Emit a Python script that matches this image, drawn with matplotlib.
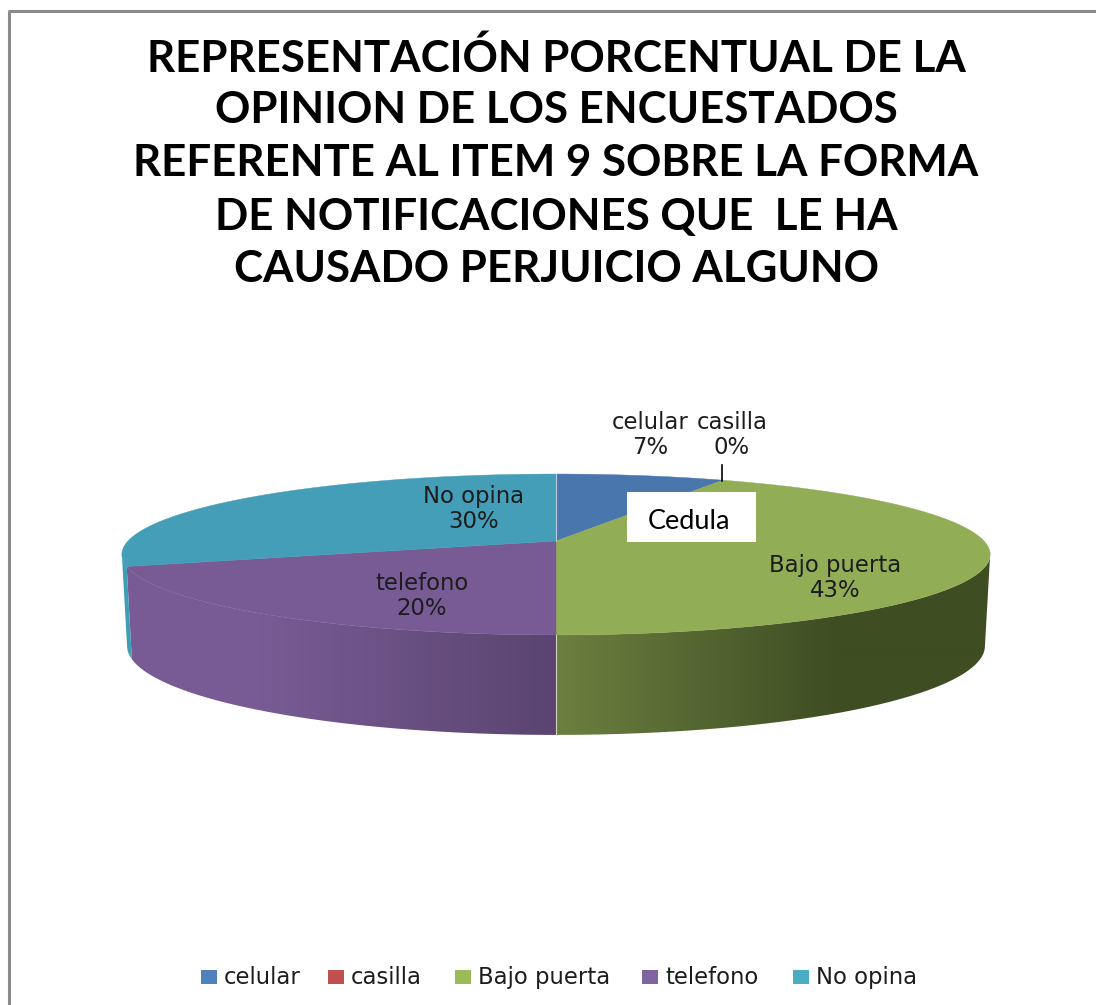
import numpy as np
import matplotlib
matplotlib.use('Agg')
import matplotlib.pyplot as plt
from matplotlib.colors import to_rgb
from matplotlib.patches import PathPatch, Polygon, Rectangle
from matplotlib.path import Path

# data
categories = ['celular', 'casilla', 'Bajo puerta', 'telefono', 'No opina']
values = [7.4, 0, 42.6, 20, 30]
top_colors = ['#4a76ae', '#b94a47', '#91ad56', '#785b95', '#459eb7']
legend_colors = ['#4f81bd', '#c0504d', '#9bbb59', '#8064a2', '#4bacc6']
title_lines = ['REPRESENTACIÓN PORCENTUAL DE LA',
               'OPINION DE LOS ENCUESTADOS',
               'REFERENTE AL ITEM 9 SOBRE LA FORMA',
               'DE NOTIFICACIONES QUE  LE HA',
               'CAUSADO PERJUICIO ALGUNO']

W, H = 1096, 1005
CX, CY = 556., 541.
K = 0.1677      # perspective
A_X, A_Y = 428., 78.2
B_SCALE, B_DY, B_AY = 0.988, 90., 86.5


def top_xy(deg):
    t = np.radians(deg)
    d = 1 + K * np.cos(t)
    return CX + A_X * np.sin(t) / d, CY - A_Y * np.cos(t) / d


def bottom_xy(deg):
    t = np.radians(deg)
    d = 1 + K * np.cos(t)
    return CX + B_SCALE * A_X * np.sin(t) / d, CY + B_DY - B_AY * np.cos(t) / d


def wall_color(x):
    # side walls get darker towards the front right
    xs = [127, 260, 556, 556.01, 835, 990]
    stops = ['#785b94', '#785b94', '#5a4470', '#6b8040', '#3f4d23', '#3f4d23']
    rgb = np.array([to_rgb(c) for c in stops])
    return np.array([np.interp(x, xs, rgb[:, i]) for i in range(3)]).T


fig = plt.figure(figsize=(W / 100, H / 100), dpi=100)
ax = fig.add_axes([0, 0, 1, 1])
ax.set_xlim(0, W)
ax.set_ylim(H, 0)
ax.axis('off')

# frame, only top and left are in the crop
ax.plot([9.3, 9.3], [H, 11.3], color='#8a8a8a', lw=2.2, solid_capstyle='butt')
ax.plot([8.2, W], [11.3, 11.3], color='#8a8a8a', lw=2.2, solid_capstyle='butt')

edges = np.cumsum([0] + values) / sum(values) * 360.
sil_right = np.degrees(np.arccos(-K))
sil_left = 360 - sil_right

# walls
grad_x = np.arange(100, 1000)
for i in range(len(values)):
    a, b = max(edges[i], sil_right), min(edges[i + 1], sil_left)
    if a >= b:
        continue
    th = np.linspace(a, b, 200)
    xt, yt = top_xy(th)
    xb, yb = bottom_xy(th)
    pts = np.vstack([np.c_[xt, yt], np.c_[xb, yb][::-1]])
    if categories[i] == 'No opina':
        ax.add_patch(Polygon(pts, closed=True, fc='#3f9db5', ec='none', zorder=2))
        continue
    img = wall_color(grad_x)[None, :, :]
    im = ax.imshow(img, extent=[100, 1000, 760, 540], aspect='auto', zorder=2,
                   interpolation='bilinear')
    patch = PathPatch(Path(np.vstack([pts, pts[:1]])), transform=ax.transData)
    im.set_clip_path(patch)
ax.set_xlim(0, W)
ax.set_ylim(H, 0)

# seam at the front
ax.plot(*zip(top_xy(180.), bottom_xy(180.)), color='#cdd6bd', lw=0.8, zorder=3)

# top face
for i in range(len(values)):
    if values[i] == 0:
        continue
    th = np.linspace(edges[i], edges[i + 1], 200)
    xt, yt = top_xy(th)
    pts = np.vstack([[CX, CY], np.c_[xt, yt]])
    ax.add_patch(Polygon(pts, closed=True, fc=top_colors[i], ec=top_colors[i],
                         lw=0.3, zorder=4))
x0, y0 = top_xy(0.)
ax.plot([CX, x0], [CY, y0], color='#b9cbe0', lw=0.8, zorder=5)

# title
title_y = [58, 110, 163, 217, 269]
for line, y in zip(title_lines, title_y):
    ax.text(556, y, line, ha='center', va='center', fontsize=31.6,
            fontfamily='Lato', fontweight='bold', color='black', zorder=6)

# data labels
label_pos = [(650, 435), (732, 435), (835, 578), (422, 596), (474, 509)]
for i in range(len(values)):
    px, py = label_pos[i]
    ax.text(px, py, '%s\n%d%%' % (categories[i], round(values[i])), ha='center',
            va='center', fontsize=16.4, fontfamily='DejaVu Sans', color='#1c1c1c',
            linespacing=1.15, zorder=6)
ax.plot([722, 722], [465, 481], color='black', lw=1.2, zorder=6)

# text box on top of the chart
ax.add_patch(Rectangle((627, 492), 129, 50, fc='white', ec='none', zorder=7))
ax.text(648, 521, 'Cedula', ha='left', va='center', fontsize=19.5,
        fontfamily='Lato', color='black', zorder=8)

# legend
leg_sq = [201, 328, 455, 642, 793]
for i in range(len(categories)):
    ax.add_patch(Rectangle((leg_sq[i], 970), 16, 14, fc=legend_colors[i], ec='none'))
    ax.text(leg_sq[i] + 23, 977, categories[i], ha='left', va='center',
            fontsize=16.4, fontfamily='DejaVu Sans', color='#1c1c1c')

fig.savefig('out.png', dpi=100)
